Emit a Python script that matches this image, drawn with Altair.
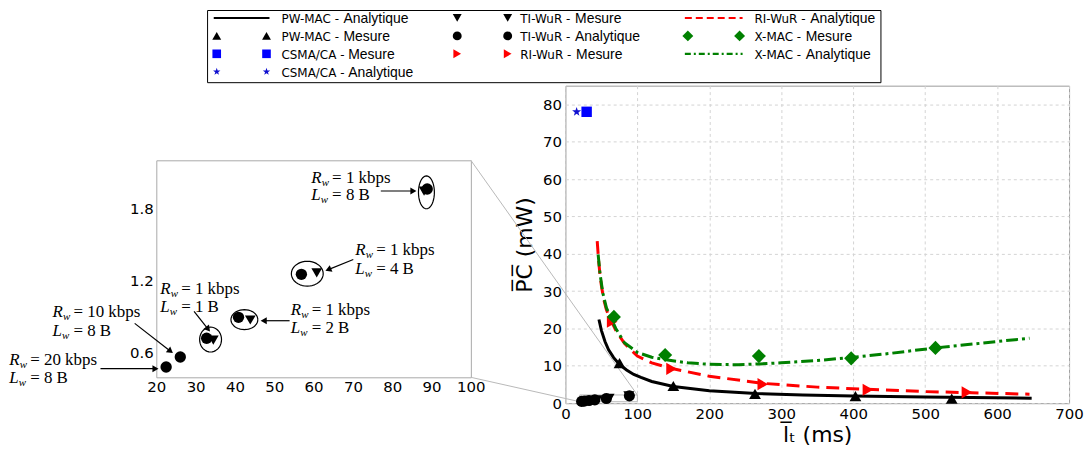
import math
import altair as alt
import pandas as pd

# ---------------- values ----------------
# PW-MAC
pw_ana_x = [46.6, 50, 55, 60, 67, 75, 85, 95, 105, 120, 150, 200, 265, 330, 400, 500, 648]
pw_ana_y = [22.4, 19.5, 16.5, 14.3, 12.2, 10.4, 8.9, 7.7, 6.9, 5.8, 4.45, 3.3, 2.6, 2.2, 1.95, 1.65, 1.35]
pw_mes_x = [75.2, 150.0, 263.5, 403.1, 536.9]
pw_mes_y = [10.7, 4.6, 2.5, 1.9, 1.2]
# RI-WuR
ri_ana_x = [44.2, 46, 48, 50, 53, 57, 61, 64, 70, 82, 100, 120, 145, 200, 275, 350, 420, 500, 645]
ri_ana_y = [43.4, 38.5, 34.5, 31.5, 28, 25, 23, 21.9, 19.5, 16, 12.6, 10.8, 9.4, 7.2, 5.3, 4.3, 3.7, 3.1, 2.4]
ri_mes_x = [65.0, 147.5, 274.3, 420.4, 558.0]
ri_mes_y = [21.8, 9.2, 5.1, 3.6, 2.9]
# X-MAC
xm_ana_x = [45.5, 48, 52, 57, 64, 70, 82, 100, 120, 140, 170, 200, 240, 270, 300, 350, 400, 450, 514, 580, 645]
xm_ana_y = [39.8, 34.8, 29.5, 25.5, 22.5, 20, 16.2, 13.6, 12.3, 11.6, 10.8, 10.4, 10.3, 10.5, 10.8, 11.4, 12.3, 13.3, 14.8, 16.1, 17.4]
xm_mes_x = [67.4, 138.6, 268.9, 397.2, 514.3]
xm_mes_y = [23.1, 12.9, 12.6, 12.0, 14.8]
# CSMA/CA
cs_mes_x, cs_mes_y = [29.5], [78.0]
cs_ana_x, cs_ana_y = [15.6], [78.0]
# TI-WuR
ti_ana_x = [22.5, 26.1, 32.8, 40.9, 56.9, 88.9]
ti_ana_y = [0.476, 0.559, 0.716, 0.89, 1.249, 1.961]
ti_mes_x = [34.5, 43.9, 60.8, 88.1]
ti_mes_y = [0.70, 0.868, 1.262, 1.944]

# inset annotations
ann_rate = ["1 kbps", "1 kbps", "1 kbps", "1 kbps", "10 kbps", "20 kbps"]
ann_len = ["8 B", "4 B", "2 B", "1 B", "8 B", "8 B"]
ann_x = [59.4, 70.6, 54.2, 21.0, -6.4, -17.4]
ann_y1 = [2.055, 1.45, 0.951, 1.13, 0.937, 0.531]
ann_y2 = [1.911, 1.295, 0.799, 0.978, 0.78, 0.38]
arr_x1 = [77.1, 70.1, 53.9, 29.6, 14.5, 5.8]
arr_y1 = [1.944, 1.373, 0.862, 0.94, 0.84, 0.462]
arr_x2 = [86.4, 62.8, 46.3, 33.8, 24.4, 20.8]
arr_y2 = [1.944, 1.276, 0.862, 0.766, 0.587, 0.462]
ell_x = [33.8, 42.4, 58.4, 88.7]
ell_y = [0.705, 0.871, 1.254, 1.933]
ell_w = [22, 27, 32, 16]
ell_h = [25, 20, 25, 33]

# legend
leg_prefix = ["PW-MAC - ", "PW-MAC - ", "CSMA/CA - ", "CSMA/CA - ", "TI-WuR - ",
              "TI-WuR - ", "RI-WuR - ", "RI-WuR - ", "X-MAC - ", "X-MAC - "]
leg_suffix = ["Analytique", "Mesure", "Mesure", "Analytique", "Mesure",
              "Analytique", "Mesure", "Analytique", "Mesure", "Analytique"]
leg_col = [0, 0, 0, 0, 1, 1, 1, 2, 2, 2]
leg_row = [0, 1, 2, 3, 0, 1, 2, 0, 1, 2]

# ---------------- layout (page pixels) ----------------
MAIN_W, MAIN_H = 506, 319
X_MAX, Y_MAX = 700, 85
MAIN_L, MAIN_T = 567, 84
INSET_X_DOM = [20, 100]
INSET_Y_DOM = [0.39, 2.2]
IN_L, IN_T, IN_R, IN_B = 156, 159, 472, 377
IN_W, IN_H = IN_R - IN_L, IN_B - IN_T
IN_XS = IN_W / (INSET_X_DOM[1] - INSET_X_DOM[0])
IN_YS = IN_H / (INSET_Y_DOM[1] - INSET_Y_DOM[0])
LEG_TOP = 8
LEG_BOX = (207.5, 8.5, 884.0, 81.0)
LEG_W, LEG_H = LEG_BOX[2] - IN_L, LEG_BOX[3] - LEG_TOP

BLACK, RED, GREEN, BLUE, NAVY = "#000000", "#ff0000", "#008000", "#0000ff", "#1010d0"
FONT = "DejaVu Sans"
SERIF = "Liberation Serif"


def star_path():
    pts = []
    for k in range(10):
        a = math.radians(-90 + 36 * k)
        r = 1.0 if k % 2 == 0 else 0.4
        pts.append("%.3f,%.3f" % (r * math.cos(a), r * math.sin(a)))
    return "M" + "L".join(pts) + "Z"


STAR = star_path()

# ---------------- main plot ----------------
xs = alt.Scale(domain=[0, X_MAX], nice=False, zero=False)
ys = alt.Scale(domain=[0, Y_MAX], nice=False, zero=False)
ax_x = alt.Axis(values=list(range(0, 701, 100)), title="l\u0305\u209c (ms)", grid=True,
                gridDash=[3, 3], gridColor="#d4d4d4", domain=False, ticks=False,
                labelFont=FONT, labelFontSize=15, labelColor="black", labelPadding=3,
                labelFlush=False, titleFont=FONT, titleFontSize=22, titleFontWeight="normal",
                titleColor="black", titlePadding=3)
ax_y = alt.Axis(values=list(range(0, 81, 10)), title="P\u0305C\u0305 (mW)", grid=True,
                gridDash=[3, 3], gridColor="#d4d4d4", domain=False, ticks=False,
                labelFont=FONT, labelFontSize=15, labelColor="black", labelPadding=4,
                labelFlush=False, titleFont=FONT, titleFontSize=22, titleFontWeight="normal",
                titleColor="black", titlePadding=6)


def df(x, y):
    return pd.DataFrame({"x": x, "y": y})


def enc_main(c):
    return c.encode(x=alt.X("x:Q", scale=xs, axis=ax_x), y=alt.Y("y:Q", scale=ys, axis=ax_y))


def to_main_x(page_x):
    return (page_x - MAIN_L) / MAIN_W * X_MAX


def to_main_y(page_y):
    return (MAIN_T + MAIN_H - page_y) / MAIN_H * Y_MAX


# zoom box + connector lines, as polylines in main data coordinates
zx0, zx1 = INSET_X_DOM
zy0, zy1 = INSET_Y_DOM
deco_rows = []
for k, (px, py) in enumerate([(zx0, zy0), (zx1, zy0), (zx1, zy1), (zx0, zy1), (zx0, zy0)]):
    deco_rows.append({"g": "box", "i": k, "x": px, "y": py})
deco_rows += [
    {"g": "c1", "i": 0, "x": to_main_x(IN_R), "y": to_main_y(IN_T)},
    {"g": "c1", "i": 1, "x": zx1, "y": zy1},
    {"g": "c2", "i": 0, "x": to_main_x(IN_R), "y": to_main_y(IN_B)},
    {"g": "c2", "i": 1, "x": zx0, "y": zy0},
]
deco_df = pd.DataFrame(deco_rows)

main_layers = [
    enc_main(alt.Chart(deco_df).mark_line(color="#b8b8b8", strokeWidth=1, strokeJoin="bevel")).encode(
        detail="g:N", order="i:Q"),
    enc_main(alt.Chart(df(pw_ana_x, pw_ana_y)).mark_line(color=BLACK, strokeWidth=3)),
    enc_main(alt.Chart(df(ri_ana_x, ri_ana_y)).mark_line(color=RED, strokeWidth=3, strokeDash=[13, 7])),
    enc_main(alt.Chart(df(xm_ana_x, xm_ana_y)).mark_line(color=GREEN, strokeWidth=3, strokeDash=[12, 4, 3, 4])),
    enc_main(alt.Chart(df(pw_mes_x, pw_mes_y)).mark_point(shape="triangle-up", filled=True, color=BLACK,
                                                          size=140, opacity=1)),
    enc_main(alt.Chart(df(ri_mes_x, ri_mes_y)).mark_point(shape="triangle-right", filled=True, color=RED,
                                                          size=150, opacity=1)),
    enc_main(alt.Chart(df(xm_mes_x, xm_mes_y)).mark_point(shape="diamond", filled=True, color=GREEN,
                                                          size=200, opacity=1)),
    enc_main(alt.Chart(df(ti_ana_x, ti_ana_y)).mark_point(shape="circle", filled=True, color=BLACK,
                                                          size=125, opacity=1)),
    enc_main(alt.Chart(df(ti_mes_x, ti_mes_y)).mark_point(shape="triangle-down", filled=True, color=BLACK,
                                                          size=120, opacity=1)),
    enc_main(alt.Chart(df(cs_mes_x, cs_mes_y)).mark_point(shape="square", filled=True, color=BLUE,
                                                          size=110, opacity=1)),
    enc_main(alt.Chart(df(cs_ana_x, cs_ana_y)).mark_point(shape=STAR, filled=True, color=NAVY,
                                                          size=90, opacity=1)),
]
main = alt.layer(*main_layers).properties(
    width=MAIN_W, height=MAIN_H, view=alt.ViewBackground(stroke="#9a9a9a", strokeWidth=1))

# ---------------- inset ----------------
ixs = alt.Scale(domain=INSET_X_DOM, nice=False, zero=False)
iys = alt.Scale(domain=INSET_Y_DOM, nice=False, zero=False)
iax_x = alt.Axis(values=list(range(20, 101, 10)), title="", grid=False, domain=False, ticks=False,
                 labelFont=FONT, labelFontSize=15, labelColor="black", labelPadding=2,
                 labelFlush=False)
iax_y = alt.Axis(values=[0.6, 1.2, 1.8], format=".1f", title="", grid=False, domain=False, ticks=False,
                 labelFont=FONT, labelFontSize=15, labelColor="black", labelPadding=3,
                 labelFlush=False)


def enc_in(c):
    return c.encode(x=alt.X("x:Q", scale=ixs, axis=iax_x), y=alt.Y("y:Q", scale=iys, axis=iax_y))


# ellipses and arrow shafts as polylines (inset data coordinates)
poly = []
for e, (ex, ey, ew, eh) in enumerate(zip(ell_x, ell_y, ell_w, ell_h)):
    n = 40
    for k in range(n + 1):
        t = 2 * math.pi * k / n
        poly.append({"g": "e%d" % e, "i": k,
                     "x": ex + ew / 2 * math.cos(t) / IN_XS,
                     "y": ey + eh / 2 * math.sin(t) / IN_YS})
heads = []
for a, (x1, y1, x2, y2) in enumerate(zip(arr_x1, arr_y1, arr_x2, arr_y2)):
    dxp = (x2 - x1) * IN_XS
    dyp = -(y2 - y1) * IN_YS           # screen y grows downward
    ln = math.hypot(dxp, dyp)
    ux, uy = dxp / ln, dyp / ln
    hx = x2 - 4 * ux / IN_XS
    hy = y2 + 4 * uy / IN_YS
    poly.append({"g": "s%d" % a, "i": 0, "x": x1, "y": y1})
    poly.append({"g": "s%d" % a, "i": 1, "x": hx, "y": hy})
    heads.append((hx, hy, round(math.degrees(math.atan2(ux, -uy)) % 360, 2)))
poly_df = pd.DataFrame(poly)

inset_layers = [
    enc_in(alt.Chart(poly_df).mark_line(color=BLACK, strokeWidth=1.2, strokeJoin="bevel")).encode(
        detail="g:N", order="i:Q"),
]
for hx, hy, ang in heads:
    inset_layers.append(enc_in(alt.Chart(df([hx], [hy])).mark_point(
        shape="triangle-up", filled=True, color=BLACK, size=50, opacity=1, angle=ang)))
inset_layers += [
    enc_in(alt.Chart(df(ti_ana_x, ti_ana_y)).mark_point(shape="circle", filled=True, color=BLACK,
                                                        size=130, opacity=1)),
    enc_in(alt.Chart(df(ti_mes_x, ti_mes_y)).mark_point(shape="triangle-down", filled=True, color=BLACK,
                                                        size=115, opacity=1)),
]

# annotation texts
txt_rows = []
for ax_, a1, a2, rt, lt in zip(ann_x, ann_y1, ann_y2, ann_rate, ann_len):
    txt_rows.append({"x": ax_, "y": a1, "sym": "R", "rest": "= " + rt, "w": "w"})
    txt_rows.append({"x": ax_, "y": a2, "sym": "L", "rest": "= " + lt, "w": "w"})
txt_df = pd.DataFrame(txt_rows)
r_df = txt_df[txt_df.sym == "R"].reset_index(drop=True)
l_df = txt_df[txt_df.sym == "L"].reset_index(drop=True)
inset_layers += [
    enc_in(alt.Chart(txt_df).mark_text(font=SERIF, fontSize=17, fontStyle="italic", align="left",
                                       baseline="middle", color=BLACK)).encode(text="sym:N"),
    enc_in(alt.Chart(r_df).mark_text(font=SERIF, fontSize=11, fontStyle="italic", align="left",
                                     baseline="middle", color=BLACK, dx=10.5, dy=5)).encode(text="w:N"),
    enc_in(alt.Chart(l_df).mark_text(font=SERIF, fontSize=11, fontStyle="italic", align="left",
                                     baseline="middle", color=BLACK, dx=9.5, dy=5)).encode(text="w:N"),
    enc_in(alt.Chart(txt_df).mark_text(font=SERIF, fontSize=17, align="left", baseline="middle",
                                       color=BLACK, dx=21)).encode(text="rest:N"),
]
inset = alt.layer(*inset_layers).properties(
    width=IN_W, height=IN_H, view=alt.ViewBackground(stroke="#a8a8a8", strokeWidth=1))

# ---------------- legend (own chart, pixel-unit scales) ----------------
LEG_M1 = [216.7, 458.3, 690.0]
LEG_M2 = [266.7, 509.0, 742.0]
LEG_TX = [281.7, 521.7, 757.0]
LEG_ROWS = [16, 34, 52, 70]

leg_style = [
    ("line", None, BLACK, None, 0),
    ("point", "triangle-up", BLACK, None, 80),
    ("point", "square", BLUE, None, 75),
    ("point", STAR, NAVY, None, 60),
    ("point", "triangle-down", BLACK, None, 80),
    ("point", "circle", BLACK, None, 80),
    ("point", "triangle-right", RED, None, 80),
    ("line", None, RED, [7, 4], 0),
    ("point", "diamond", GREEN, None, 120),
    ("line", None, GREEN, [6, 3, 2, 3], 0),
]
lxs = alt.Scale(domain=[0, LEG_W], nice=False, zero=False)
lys = alt.Scale(domain=[LEG_H, 0], nice=False, zero=False)


def lx(px):
    return px - IN_L


def ly(py):
    return py - LEG_TOP


def enc_leg(c):
    return c.encode(x=alt.X("x:Q", scale=lxs, axis=None), y=alt.Y("y:Q", scale=lys, axis=None))


lbox = pd.DataFrame({"x": [lx(LEG_BOX[0])], "x2": [lx(LEG_BOX[2])],
                     "y": [ly(LEG_BOX[1])], "y2": [ly(LEG_BOX[3])]})
legend_layers = [alt.Chart(lbox).mark_rect(fill="white", fillOpacity=0, stroke=BLACK, strokeWidth=1).encode(
    x=alt.X("x:Q", scale=lxs, axis=None), x2="x2:Q",
    y=alt.Y("y:Q", scale=lys, axis=None), y2="y2:Q")]

DJV = {"P": 603, "W": 989, "-": 361, "M": 863, "A": 684, "C": 698, " ": 318, "S": 635,
       "/": 337, "T": 611, "I": 295, "u": 634, "R": 695, "X": 685}


def text_w(s, size):
    return sum(DJV.get(ch, 600) for ch in s) * size / 1000.0


pre_rows, suf_rows = [], []
for i, (c, r) in enumerate(zip(leg_col, leg_row)):
    kind, shape, color, dash, size = leg_style[i]
    yy = ly(LEG_ROWS[r])
    if kind == "line":
        d = pd.DataFrame({"x": [lx(LEG_M1[c] - 3), lx(LEG_M2[c] + 3)], "y": [yy, yy]})
        kw = dict(color=color, strokeWidth=2.2)
        if dash:
            kw["strokeDash"] = dash
        legend_layers.append(enc_leg(alt.Chart(d).mark_line(**kw)))
    else:
        d = pd.DataFrame({"x": [lx(LEG_M1[c]), lx(LEG_M2[c])], "y": [yy, yy]})
        legend_layers.append(enc_leg(alt.Chart(d).mark_point(shape=shape, filled=True, color=color,
                                                             size=size, opacity=1)))
    pre_rows.append({"x": lx(LEG_TX[c]), "y": yy + 5, "t": leg_prefix[i]})
    suf_rows.append({"x": lx(LEG_TX[c]) + text_w(leg_prefix[i], 12), "y": yy + 5, "t": leg_suffix[i]})

legend_layers.append(enc_leg(alt.Chart(pd.DataFrame(pre_rows)).mark_text(
    font=FONT, fontSize=12, align="left", baseline="alphabetic", color=BLACK)).encode(text="t:N"))
legend_layers.append(enc_leg(alt.Chart(pd.DataFrame(suf_rows)).mark_text(
    font="Liberation Sans", fontSize=14, align="left", baseline="alphabetic", color=BLACK)).encode(text="t:N"))
legend = alt.layer(*legend_layers).properties(
    width=LEG_W, height=LEG_H, view=alt.ViewBackground(stroke="transparent"))

# ---------------- spacer above inset ----------------
spacer = alt.Chart(pd.DataFrame({"v": [0.0]})).mark_point(opacity=0, size=1).encode(
    x=alt.X("v:Q", axis=None), y=alt.Y("v:Q", axis=None)
).properties(width=IN_W, height=1, view=alt.ViewBackground(stroke="transparent"))

# a nested (flush) concat counts with zero width in the row layout, so the gap
# to the main panel is measured from the inset's left edge
inset_col = alt.vconcat(spacer, inset, spacing=IN_T - MAIN_T - 1, bounds="flush")
body = alt.hconcat(inset_col, main, spacing=MAIN_L - IN_L, bounds="flush")
chart = alt.vconcat(legend, body, spacing=MAIN_T - LEG_TOP - LEG_H, bounds="flush").properties(
    padding=0, background="white"
).configure_view(stroke="#9a9a9a", strokeWidth=1)

chart.save("out.html", embed_options={"renderer": "svg", "actions": False})
